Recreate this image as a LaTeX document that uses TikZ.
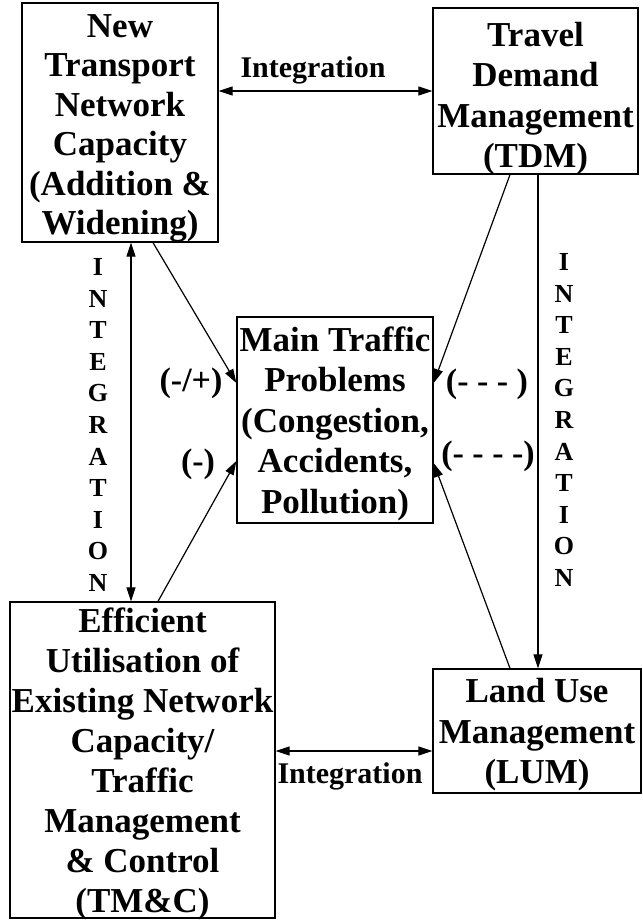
\documentclass[tikz,border=0pt]{standalone}
\usepackage{fontspec}
\setmainfont{Liberation Serif}
\usepackage{tikz}
\usetikzlibrary{arrows.meta}
\newcommand{\tstrut}[1]{\rule{0pt}{#1pt}}
\newcommand{\nodp}[1]{\raisebox{0pt}[\height][0pt]{#1}}

\begin{document}
\begin{tikzpicture}[x=1pt,y=1pt,
  box/.style={draw, line width=1.3pt, inner sep=0pt, align=center,
    font=\bfseries\fontsize{35}{40.5}\selectfont},
  lbl/.style={inner sep=0pt, anchor=base, font=\bfseries\fontsize{34}{40}\selectfont},
  intlbl/.style={inner sep=0pt, anchor=base, font=\bfseries\fontsize{30}{36}\selectfont},
  vlbl/.style={inner sep=0pt, align=center, font=\bfseries\fontsize{26}{31.6}\selectfont},
  sgl/.style={line width=1.2pt, -{Triangle[length=14pt,width=9pt]}},
  dbl/.style={line width=1.2pt, {Triangle[length=14pt,width=9pt]}-{Triangle[length=14pt,width=9pt]}}]
\useasboundingbox (0,0) rectangle (642,-920);

\node (ntnc) at (120,-122.5) [box, minimum width=196pt, minimum height=239pt,
  font=\bfseries\fontsize{35}{39.4}\selectfont]
  {\tstrut{27}New\\Transport\\Network\\Capacity\\(Addition \&\\\nodp{Widening)}};
\node (tdm) at (535.5,-91) [box, minimum width=205pt, minimum height=166pt]
  {\tstrut{32}Travel\\Demand\\Management\\\nodp{(TDM)}};
\node (mtp) at (335,-420) [box, minimum width=196pt, minimum height=206pt]
  {Main Traffic\\Problems\\(Congestion,\\Accidents,\\\nodp{Pollution)}};
\node (eff) at (142.5,-760) [box, minimum width=265pt, minimum height=316pt,
  font=\bfseries\fontsize{35}{40}\selectfont]
  {Efficient\\Utilisation of\\Existing Network\\Capacity/\\Traffic\\Management\\\& Control\\\nodp{(TM\&C)}};
\node (lum) at (537,-731) [box, minimum width=208pt, minimum height=124pt]
  {Land Use\\Management\\\nodp{(LUM)}};

\coordinate (lowint) at (0,-751);
\draw [dbl] (ntnc.east |- tdm.west) -- (tdm.west);
\node (inttop) at (313,-78) [intlbl] {Integration};
\draw [dbl] (eff.east |- lowint) -- (lum.west |- lowint);
\node (intlow) at (350,-783) [intlbl] {Integration};

\draw [dbl] ([xshift=11pt]ntnc.south) -- ([xshift=11pt]ntnc.south |- eff.north);
\node (intleft) at (98,-425) [vlbl] {I\\N\\T\\E\\G\\R\\A\\T\\I\\O\\N};
\draw [sgl] ([xshift=2.5pt]tdm.south) -- ([xshift=2.5pt]tdm.south |- lum.north);
\node (intright) at (564,-420) [vlbl] {I\\N\\T\\E\\G\\R\\A\\T\\I\\O\\N};

\draw [sgl] ([xshift=33pt]ntnc.south) -- ([yshift=37pt]mtp.west);
\node (pm) at (191,-391) [lbl] {(-/+)};
\draw [sgl] ([xshift=15.5pt]eff.north) -- ([yshift=-41pt]mtp.west);
\node (mi) at (198,-472) [lbl] {(-)};
\draw [sgl] ([xshift=-25.5pt]tdm.south) -- ([yshift=37pt]mtp.east);
\node (dtdm) at (487,-392) [lbl] {(- - - )};
\draw [sgl] ([xshift=-27pt]lum.north) -- ([yshift=-43pt]mtp.east);
\node (dlum) at (488,-464) [lbl] {(- - - -)};
\end{tikzpicture}
\end{document}
